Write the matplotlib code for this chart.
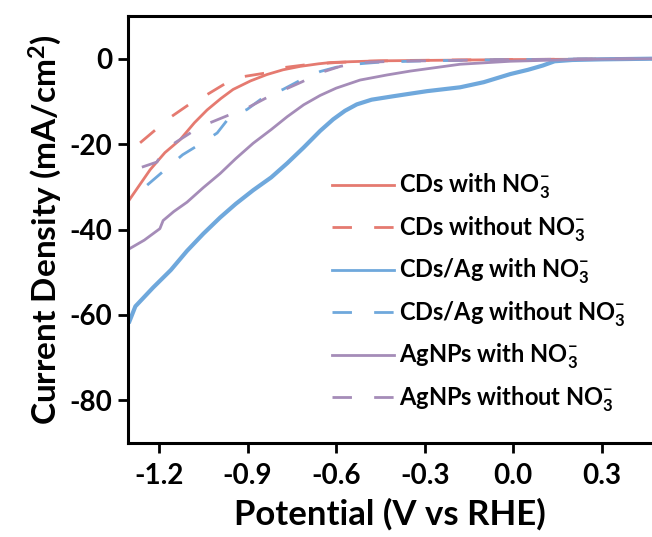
import matplotlib
matplotlib.use("Agg")
import matplotlib.pyplot as plt
import numpy as np

plt.rcParams['font.family'] = ['Lato', 'DejaVu Sans']
plt.rcParams['font.weight'] = 'bold'
plt.rcParams['mathtext.fontset'] = 'custom'
plt.rcParams['mathtext.rm'] = 'Lato:bold'
plt.rcParams['mathtext.it'] = 'Lato:bold'
plt.rcParams['mathtext.bf'] = 'Lato:bold'
plt.rcParams['axes.unicode_minus'] = False

# colours
red = '#E57A70'
blue = '#6FA8DC'
purple = '#A58CB8'

# ---- data (V vs RHE, mA/cm2) ----
cds_with_v = [-1.30, -1.23, -1.18, -1.129, -1.08, -1.037, -0.99, -0.949, -0.89,
              -0.834, -0.78, -0.722, -0.66, -0.62, -0.55, -0.45, -0.3, -0.15,
              0.0, 0.15, 0.3, 0.47]
cds_with_j = [-33.0, -26.0, -22.0, -19.0, -15.0, -12.0, -9.3, -7.2, -5.2,
              -3.7, -2.6, -1.8, -1.2, -0.9, -0.7, -0.5, -0.4, -0.3,
              -0.2, -0.15, -0.1, 0.0]

cds_without_v = [-1.264, -1.163, -1.10, -1.037, -0.97, -0.915, -0.834, -0.78,
                 -0.70, -0.60, -0.5, -0.35, -0.2, 0.0, 0.2, 0.47]
cds_without_j = [-19.7, -13.8, -10.8, -8.4, -5.6, -4.2, -3.3, -2.1,
                 -1.4, -0.9, -0.6, -0.4, -0.3, -0.2, -0.1, 0.0]

cdsag_with_v = [-1.30, -1.28, -1.22, -1.16, -1.105, -1.05, -0.993, -0.94, -0.881,
                -0.82, -0.766, -0.71, -0.654, -0.61, -0.57, -0.53, -0.48, -0.407,
                -0.35, -0.292, -0.18, -0.10, -0.01, 0.05, 0.10, 0.14, 0.2, 0.3, 0.47]
cdsag_with_j = [-61.5, -58.0, -53.6, -49.5, -45.0, -41.0, -37.2, -34.0, -30.8,
                -27.8, -24.5, -20.8, -16.9, -14.2, -12.2, -10.7, -9.6, -8.8,
                -8.2, -7.6, -6.7, -5.5, -3.6, -2.6, -1.6, -0.6, -0.3, -0.15, 0.0]

cdsag_without_v = [-1.24, -1.12, -1.054, -1.003, -0.96, -0.902, -0.847, -0.78,
                   -0.72, -0.654, -0.60, -0.542, -0.45, -0.3, -0.1, 0.2, 0.47]
cdsag_without_j = [-29.6, -22.5, -19.7, -17.4, -13.6, -11.9, -9.1, -7.2,
                   -5.0, -3.0, -2.0, -1.3, -0.8, -0.5, -0.3, -0.1, 0.0]

agnps_with_v = [-1.30, -1.25, -1.197, -1.186, -1.15, -1.105, -1.05, -0.993, -0.94,
                -0.881, -0.82, -0.766, -0.71, -0.654, -0.60, -0.519, -0.427,
                -0.349, -0.18, -0.01, 0.15, 0.3, 0.47]
agnps_with_j = [-44.5, -42.5, -39.8, -37.9, -35.8, -33.6, -30.2, -26.9, -23.4,
                -19.8, -16.6, -13.6, -10.8, -8.6, -6.9, -5.0, -3.8,
                -2.9, -1.3, -0.6, -0.3, -0.1, 0.0]

agnps_without_v = [-1.258, -1.207, -1.197, -1.146, -1.085, -1.027, -0.96, -0.90,
                   -0.84, -0.78, -0.715, -0.654, -0.586, -0.519, -0.4, -0.2,
                   0.0, 0.2, 0.47]
agnps_without_j = [-25.4, -24.2, -23.0, -19.7, -17.0, -15.0, -13.1, -11.5,
                   -9.3, -7.4, -5.4, -3.3, -1.8, -0.9, -0.6, -0.4,
                   -0.2, -0.1, 0.0]

labels = ['CDs with NO$_3^{-}$', 'CDs without NO$_3^{-}$',
          'CDs/Ag with NO$_3^{-}$', 'CDs/Ag without NO$_3^{-}$',
          'AgNPs with NO$_3^{-}$', 'AgNPs without NO$_3^{-}$']

x_ticks = [-1.2, -0.9, -0.6, -0.3, 0.0, 0.3]
y_ticks = [0, -20, -40, -60, -80]

fig = plt.figure(figsize=(6.52, 5.37), dpi=100)
ax = fig.add_axes([128 / 652, 1 - 443 / 537, 1 - 128 / 652, (443 - 16) / 537])

dash = (0, (7, 8))
ax.plot(cds_with_v, cds_with_j, color=red, lw=2, label=labels[0])
ax.plot(cds_without_v, cds_without_j, color=red, lw=2, linestyle=dash, label=labels[1])
ax.plot(cdsag_with_v, cdsag_with_j, color=blue, lw=3, label=labels[2])
ax.plot(cdsag_without_v, cdsag_without_j, color=blue, lw=2, linestyle=dash, label=labels[3])
ax.plot(agnps_with_v, agnps_with_j, color=purple, lw=2, label=labels[4])
ax.plot(agnps_without_v, agnps_without_j, color=purple, lw=2, linestyle=dash, label=labels[5])

ax.set_xlim(-1.305, 0.47)
ax.set_ylim(-90, 10)
ax.set_xticks(x_ticks)
ax.set_xticklabels(['%.1f' % t for t in x_ticks])
ax.set_yticks(y_ticks)

for s in ['left', 'bottom', 'top']:
    ax.spines[s].set_linewidth(2.2)
ax.spines['right'].set_visible(False)
ax.tick_params(direction='out', length=7.5, width=2, labelsize=20)
ax.tick_params(axis='x', pad=7)
ax.tick_params(axis='y', pad=4)

ax.set_xlabel('Potential (V vs RHE)', fontsize=25, fontweight='bold', labelpad=6)
ax.set_ylabel('Current Density (mA/cm$^2$)', fontsize=24, fontweight='bold', labelpad=4)

leg = ax.legend(loc='upper left', bbox_to_anchor=(0.39, 0.635), frameon=False,
                fontsize=17, handlelength=2.63, handletextpad=0.2,
                labelspacing=0.55, borderpad=0, borderaxespad=0)
for h in leg.get_lines():
    h.set_linewidth(2)

fig.savefig('out.png', dpi=100)
